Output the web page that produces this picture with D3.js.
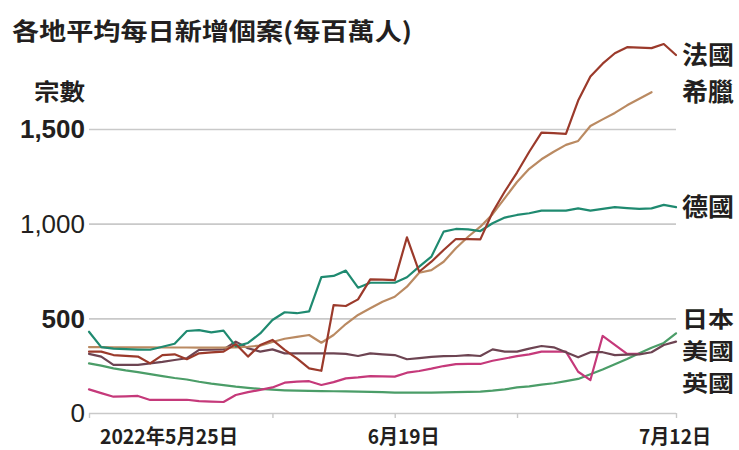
<!DOCTYPE html>
<html>
<head>
<meta charset="utf-8">
<script src="https://cdn.jsdelivr.net/npm/d3@7"></script>
<style>
  html, body { margin: 0; padding: 0; background: #fff; }
  svg { display: block; }
</style>
</head>
<body>
<svg id="chart" width="739" height="450"></svg>
<script>
// ---------------- DATA ----------------
const startDate = new Date(2022, 4, 25);
const endDate = new Date(2022, 6, 12);

const seriesNames = ["法國", "希臘", "德國", "日本", "美國", "英國"];

const france  = [324,324,306,302,298,262,306,310,284,315,320,324,364,298,359,386,333,288,236,223,570,565,600,706,704,702,928,746,799,861,919,918,917,1060,1170,1270,1380,1481,1478,1474,1650,1777,1845,1900,1932,1930,1927,1949,1891];
const greece  = [348,348,347,347,347,347,346,346,346,345,345,345,347,350,356,375,392,402,412,371,412,470,518,553,588,614,667,741,755,799,870,931,984,1050,1135,1220,1290,1340,1380,1416,1437,1516,1551,1585,1625,1660,1694];
const germany = [429,348,340,337,335,334,350,366,433,438,426,435,352,370,420,491,532,527,537,718,724,752,662,688,688,688,717,773,826,958,972,970,961,1002,1032,1046,1055,1069,1069,1069,1081,1069,1078,1087,1082,1078,1081,1099,1087];
const japan   = [262,250,236,225,216,205,195,185,177,165,155,147,139,133,127,123,120,118,117,116,115,114,113,112,110,108,108,108,108,109,110,112,113,118,125,135,141,150,157,168,180,205,230,258,285,315,345,370,421];
const usa     = [312,298,254,254,254,262,270,280,289,333,334,336,377,342,324,336,315,315,315,315,315,312,301,315,310,306,284,290,296,300,301,306,301,336,324,324,340,354,347,321,294,321,321,306,308,310,321,359,377];
const uk      = [125,105,86,88,90,69,69,69,70,63,60,58,95,110,122,135,160,166,168,148,163,183,188,195,193,192,213,222,234,248,258,259,259,276,288,300,310,324,324,324,218,174,407,360,312,312];

const yTicks = [0, 500, 1000, 1500];
const xTickDates = [new Date(2022,4,25), new Date(2022,5,9), new Date(2022,5,19), new Date(2022,5,29), new Date(2022,6,12)];
const xLabels = ["2022年5月25日", "6月19日", "7月12日"];
const xLabelDates = [new Date(2022,4,25), new Date(2022,5,19), new Date(2022,6,12)];

const titleText = "各地平均每日新增個案(每百萬人)";
const unitText = "宗數";

// ---------------- LAYOUT ----------------
const svg = d3.select("#chart");
const plotLeft = 89, plotRight = 676, plotTop = 129, plotBottom = 413;
const dates = d3.timeDay.range(startDate, d3.timeDay.offset(endDate, 1));

const x = d3.scaleTime().domain([startDate, endDate]).range([plotLeft, plotRight]);
const y = d3.scaleLinear().domain([0, 1500]).range([plotBottom, plotTop]);

const textColor = "#231f20";
const gridColor = "#c9c9c9";

// Gridlines + y labels
const yAxis = svg.append("g")
  .attr("transform", `translate(${plotLeft},0)`)
  .call(d3.axisLeft(y).tickValues(yTicks).tickSize(-(plotRight - plotLeft)).tickPadding(4).tickFormat(d3.format(",")));
yAxis.select(".domain").remove();
yAxis.selectAll(".tick line").attr("stroke", gridColor).attr("stroke-width", 1.6);
yAxis.selectAll(".tick text")
  .attr("fill", textColor)
  .style("font-family", "'Liberation Sans Narrow','Liberation Sans',sans-serif")
  .style("font-size", "26px")
  .style("font-weight", d => (d === 1500 || d === 500) ? "bold" : "normal")
  .attr("dy", "0.34em");

// x ticks
const xAxis = svg.append("g")
  .attr("transform", `translate(0,${plotBottom})`)
  .call(d3.axisBottom(x).tickValues(xTickDates).tickSize(5).tickFormat(""));
xAxis.select(".domain").remove();
xAxis.selectAll(".tick line").attr("stroke", gridColor).attr("stroke-width", 1.4);

// x labels
const xLabelOffsets = [11, -27, -37];
const xLabelLengths = [138, 72, 72];
svg.append("g").selectAll("text")
  .data(xLabels)
  .join("text")
  .attr("x", (d, i) => x(xLabelDates[i]) + xLabelOffsets[i])
  .attr("y", 444)
  .attr("textLength", (d, i) => xLabelLengths[i])
  .attr("lengthAdjust", "spacingAndGlyphs")
  .attr("fill", textColor)
  .style("font-family", "'Liberation Sans Narrow','Noto Sans CJK TC',sans-serif")
  .style("font-weight", "bold")
  .style("font-size", "20px")
  .text(d => d);

// Lines
const seriesData = [japan, uk, usa, greece, germany, france];
const seriesColors = ["#4b9d68", "#c5397a", "#6d4452", "#ba8a62", "#1f8a70", "#9b3a2b"];
const line = d3.line()
  .x((d, i) => x(dates[i]))
  .y(d => y(d))
  .curve(d3.curveLinear);

svg.append("g").selectAll("path")
  .data(seriesData)
  .join("path")
  .attr("d", d => line(d))
  .attr("fill", "none")
  .attr("stroke", (d, i) => seriesColors[i])
  .attr("stroke-width", 2.2)
  .attr("stroke-linejoin", "round")
  .attr("stroke-linecap", "round");

// Series labels (right)
const labelCenters = [52.5, 90, 204.5, 317, 349, 381];
const labelSizes = [25, 25, 25, 22, 22, 22];
svg.append("g").selectAll("text")
  .data(seriesNames)
  .join("text")
  .attr("x", plotRight + 6)
  .attr("y", (d, i) => labelCenters[i])
  .attr("dominant-baseline", "central")
  .attr("textLength", 52)
  .attr("lengthAdjust", "spacingAndGlyphs")
  .attr("fill", textColor)
  .style("font-family", "'Noto Sans CJK TC',sans-serif")
  .style("font-weight", "bold")
  .style("font-size", (d, i) => labelSizes[i] + "px")
  .text(d => d);

// Title
svg.append("text")
  .attr("x", 12).attr("y", 29.5)
  .attr("dominant-baseline", "central")
  .attr("textLength", 400)
  .attr("lengthAdjust", "spacingAndGlyphs")
  .attr("fill", textColor)
  .style("font-family", "'Noto Sans CJK TC',sans-serif")
  .style("font-weight", "bold")
  .style("font-size", "24px")
  .text(titleText);

// Unit
svg.append("text")
  .attr("x", 34).attr("y", 89.5)
  .attr("dominant-baseline", "central")
  .attr("textLength", 51)
  .attr("lengthAdjust", "spacingAndGlyphs")
  .attr("fill", textColor)
  .style("font-family", "'Noto Sans CJK TC',sans-serif")
  .style("font-weight", "bold")
  .style("font-size", "23px")
  .text(unitText);
</script>
</body>
</html>
